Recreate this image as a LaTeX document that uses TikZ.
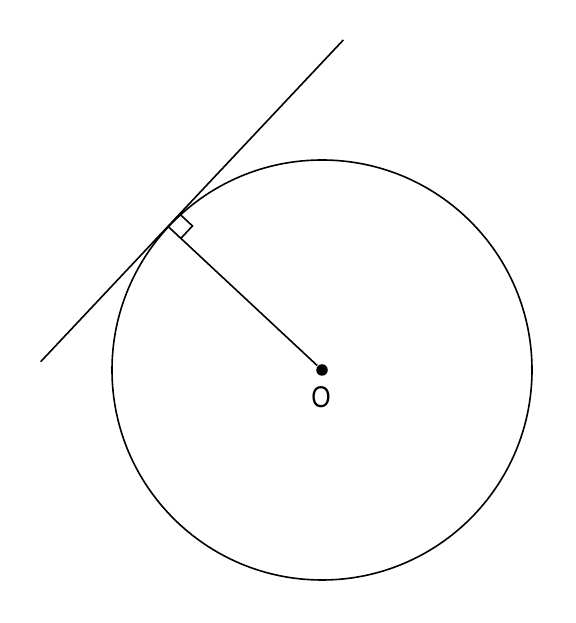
\documentclass[tikz,border=0pt]{standalone}
\usepackage{fontspec}
\setmainfont{Liberation Sans}
\usetikzlibrary{calc}
\begin{document}
\begin{tikzpicture}[x=1pt, y=1pt, line width=1.6pt]
\useasboundingbox (0,0) rectangle (575,623);
\node[circle, fill, inner sep=0pt, minimum size=11.5pt] (cO) at (322,253){};
\draw[](cO) circle (210);
\coordinate (tT) at ($(cO)+(137:210)$);
\coordinate (tA) at (40.7,261.3);
\coordinate (tB) at (343.3,583);
\draw[](tA) -- (tB);
\draw[](cO) -- (tT);
\draw[]($(tT)!17pt!(tB)$) -- ++(-43:17) -- ($(tT)!17pt!(cO)$);
\node[inner sep=0pt] (lO) at (321,226){\fontsize{30}{31}\selectfont\scalebox{0.83}[1]{O}};
\end{tikzpicture}
\end{document}
